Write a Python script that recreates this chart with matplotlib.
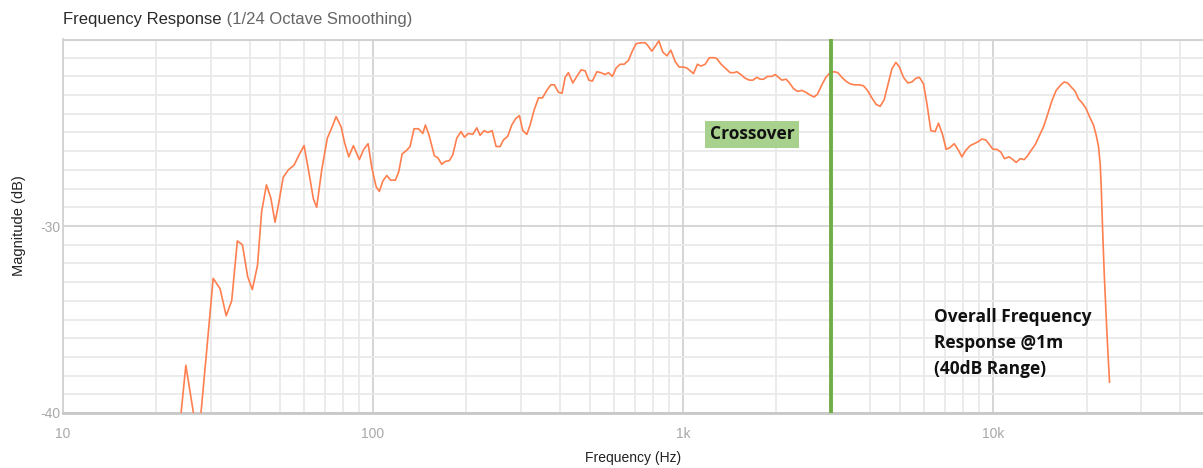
import matplotlib
matplotlib.use("Agg")
import matplotlib.pyplot as plt
from matplotlib.ticker import FixedLocator, NullFormatter, FixedFormatter, LogLocator

# measured response, 1/24 octave smoothed
freq_hz = [
    20, 23.7, 24.9, 27.3, 29.2, 30.5, 32.1, 33.6, 35.0, 36.5, 37.9, 39.4, 40.8, 42.4,
    43.7, 45.3, 46.8, 48.3, 49.6, 51.3, 53.3, 55.6, 57.7, 59.9, 62.2, 64.2, 65.8, 68.3,
    71.2, 73.6, 76.0, 78.9, 80.8, 83.5, 86.4, 90.3, 93.3, 96.4, 99.0, 102.3, 104.8,
    107.5, 110.7, 114.0, 118.0, 121.0, 124.1, 128.4, 131.6, 135.6, 140.1, 144.7, 147.5,
    151.6, 157.7, 161.7, 166.6, 170.8, 176.3, 180.7, 186.2, 192.2, 197.1, 203.0, 209.7,
    216.0, 221.4, 228.1, 234.4, 242.1, 249.4, 256.9, 263.3, 271.9, 280.1, 288.6, 296.5,
    304.0, 313.2, 321.0, 330.7, 341.5, 351.8, 363.3, 374.3, 384.6, 396.0, 407.0, 416.3,
    426.6, 440.8, 454.1, 468.8, 483.0, 496.4, 509.9, 526.8, 542.7, 560.4, 574.2, 591.6,
    608.1, 626.4, 645.3, 666.2, 683.3, 705.5, 732.1, 754.2, 769.4, 792.5, 812.3, 835.0,
    860.2, 886.2, 912.9, 942.6, 970.7, 1002, 1028, 1080, 1112, 1141, 1178, 1215, 1259,
    1285, 1326, 1376, 1418, 1460, 1490, 1535, 1585, 1636, 1678, 1729, 1772, 1816, 1871,
    1932, 1981, 2030, 2082, 2149, 2203, 2269, 2337, 2415, 2488, 2569, 2646, 2712, 2802,
    2886, 2980, 3070, 3155, 3250, 3348, 3457, 3569, 3696, 3816, 3932, 4062, 4194, 4320,
    4450, 4575, 4713, 4855, 4986, 5136, 5307, 5467, 5632, 5785, 5960, 6112, 6295, 6500,
    6661, 6863, 7053, 7266, 7485, 7728, 7925, 8164, 8430, 8684, 8925, 9194, 9473, 9730,
    9977, 10277, 10588, 10876, 11262, 11575, 11864, 12222, 12589, 12900, 13260, 13660,
    14105, 14530, 14970, 15465, 15966, 16535, 16944, 17365, 17808, 18387, 18844, 19324,
    19905, 20445, 21062, 21494, 21862, 22142, 22306, 22523, 22810, 23271, 23725,
]
magnitude_db = [
    -46, -41.0, -37.45, -41.6, -36.3, -32.8, -33.35, -34.8, -34.0, -30.8, -31.0, -32.7,
    -33.4, -32.1, -29.25, -27.8, -28.5, -29.8, -28.8, -27.4, -27.0, -26.75, -26.2, -25.7,
    -27.2, -28.55, -29.0, -27.0, -25.3, -24.75, -24.15, -24.7, -25.5, -26.3, -25.7,
    -26.45, -25.9, -25.6, -26.85, -27.9, -28.15, -27.6, -27.3, -27.55, -27.55, -27.1,
    -26.15, -25.95, -25.75, -24.8, -24.8, -25.05, -24.6, -25.15, -26.25, -26.35, -26.7,
    -26.55, -26.5, -26.2, -25.3, -24.95, -25.25, -25.05, -25.1, -24.75, -25.15, -24.9,
    -25.0, -24.9, -25.75, -25.75, -25.4, -25.2, -24.6, -24.25, -24.1, -24.9, -25.1,
    -24.6, -23.8, -23.15, -23.15, -22.75, -22.45, -22.45, -22.85, -22.9, -22.05, -21.8,
    -22.35, -22.0, -21.65, -21.7, -22.2, -22.25, -21.75, -21.8, -21.9, -21.8, -22.0,
    -21.55, -21.35, -21.35, -21.15, -20.7, -20.25, -20.2, -20.2, -20.35, -20.65, -20.4,
    -20.1, -20.7, -20.9, -20.6, -21.2, -21.5, -21.5, -21.55, -21.85, -21.35, -21.45,
    -21.35, -21.0, -21.0, -21.05, -21.35, -21.6, -21.8, -21.8, -21.75, -21.9, -22.1,
    -22.2, -22.2, -22.05, -22.15, -22.15, -22.0, -22.0, -21.9, -22.05, -22.2, -22.15,
    -22.35, -22.65, -22.8, -22.75, -22.85, -23.0, -23.1, -22.95, -22.45, -22.05, -21.8,
    -21.75, -21.8, -22.05, -22.25, -22.4, -22.45, -22.45, -22.5, -22.75, -23.15, -23.5,
    -23.6, -23.25, -22.45, -21.6, -21.25, -21.5, -22.05, -22.35, -22.3, -22.1, -22.05,
    -22.4, -23.45, -24.9, -24.95, -24.5, -25.1, -25.9, -25.8, -25.6, -25.95, -26.3,
    -25.95, -25.7, -25.6, -25.5, -25.35, -25.4, -25.65, -25.9, -25.9, -26.05, -26.4,
    -26.3, -26.45, -26.6, -26.4, -26.45, -26.25, -25.95, -25.65, -25.15, -24.7, -24.05,
    -23.3, -22.75, -22.45, -22.3, -22.35, -22.55, -22.8, -23.2, -23.4, -23.7, -24.15,
    -24.6, -25.15, -25.75, -26.7, -27.9, -30.05, -32.55, -35.7, -38.35,
]

crossover_hz = 3000
x_ticks = [10, 100, 1000, 10000]
x_tick_labels = ["10", "100", "1k", "10k"]
y_ticks = [-40, -30]
y_tick_labels = ["-40", "-30"]

plt.rcParams["font.family"] = ["Liberation Sans", "DejaVu Sans"]

fig = plt.figure(figsize=(12.03, 4.68), dpi=100)
ax = fig.add_axes([63 / 1203, 55 / 468, 1140 / 1203, 374 / 468])

ax.set_xscale("log")
ax.set_xlim(10, 47500)
ax.set_ylim(-40, -20)

# grid: decades / 10 dB darker, the rest light
ax.xaxis.set_major_locator(FixedLocator(x_ticks))
ax.xaxis.set_major_formatter(FixedFormatter(x_tick_labels))
ax.xaxis.set_minor_locator(LogLocator(base=10, subs=range(2, 10), numticks=20))
ax.xaxis.set_minor_formatter(NullFormatter())
ax.yaxis.set_major_locator(FixedLocator(y_ticks))
ax.yaxis.set_major_formatter(FixedFormatter(y_tick_labels))
ax.yaxis.set_minor_locator(FixedLocator(range(-39, -19)))

ax.grid(which="minor", color="#e9e9e9", lw=1.3)
ax.grid(which="major", color="#d2d2d2", lw=1.3)
ax.axhline(-20, color="#d2d2d2", lw=2.2, zorder=1)
ax.set_axisbelow(True)

ax.tick_params(which="both", length=0, labelsize=10, labelcolor="#a8a8a8")
ax.tick_params(axis="x", pad=10)
ax.tick_params(axis="y", pad=2)

for side in ["top", "right"]:
    ax.spines[side].set_visible(False)
ax.spines["left"].set_color("#d2d2d2")
ax.spines["left"].set_linewidth(1.3)
ax.spines["bottom"].set_color("#c8c8c8")
ax.spines["bottom"].set_linewidth(2)

ax.plot(freq_hz, magnitude_db, color="#ff7f4f", lw=1.2, zorder=3)
ax.axvline(crossover_hz, color="#70ad47", lw=2.8, zorder=4)

ax.text(1670, -25.1, "Crossover", ha="center", va="center", fontsize=12.5,
        fontweight="bold", color="#111111", family=["Open Sans", "DejaVu Sans"],
        bbox=dict(boxstyle="square,pad=0.25", fc="#a9d18e", ec="none"), zorder=5)
ax.text(6450, -34.4, "Overall Frequency\nResponse @1m\n(40dB Range)", ha="left",
        va="top", fontsize=12.5, fontweight="bold", color="#111111", linespacing=1.55,
        family=["Open Sans", "DejaVu Sans"], zorder=5)

ax.set_xlabel("Frequency (Hz)", fontsize=10, color="#222222", labelpad=7)
ax.set_ylabel("Magnitude (dB)", fontsize=10.5, color="#222222", labelpad=10)

t1 = fig.text(63 / 1203, 1 - 24 / 468, "Frequency Response", fontsize=12,
              color="#2a2a2a", ha="left", va="baseline")
ax.annotate(" (1/24 Octave Smoothing)", xy=(1, 0), xycoords=t1, fontsize=12,
            color="#666666", ha="left", va="bottom", annotation_clip=False)

fig.savefig("out.png", dpi=100)
